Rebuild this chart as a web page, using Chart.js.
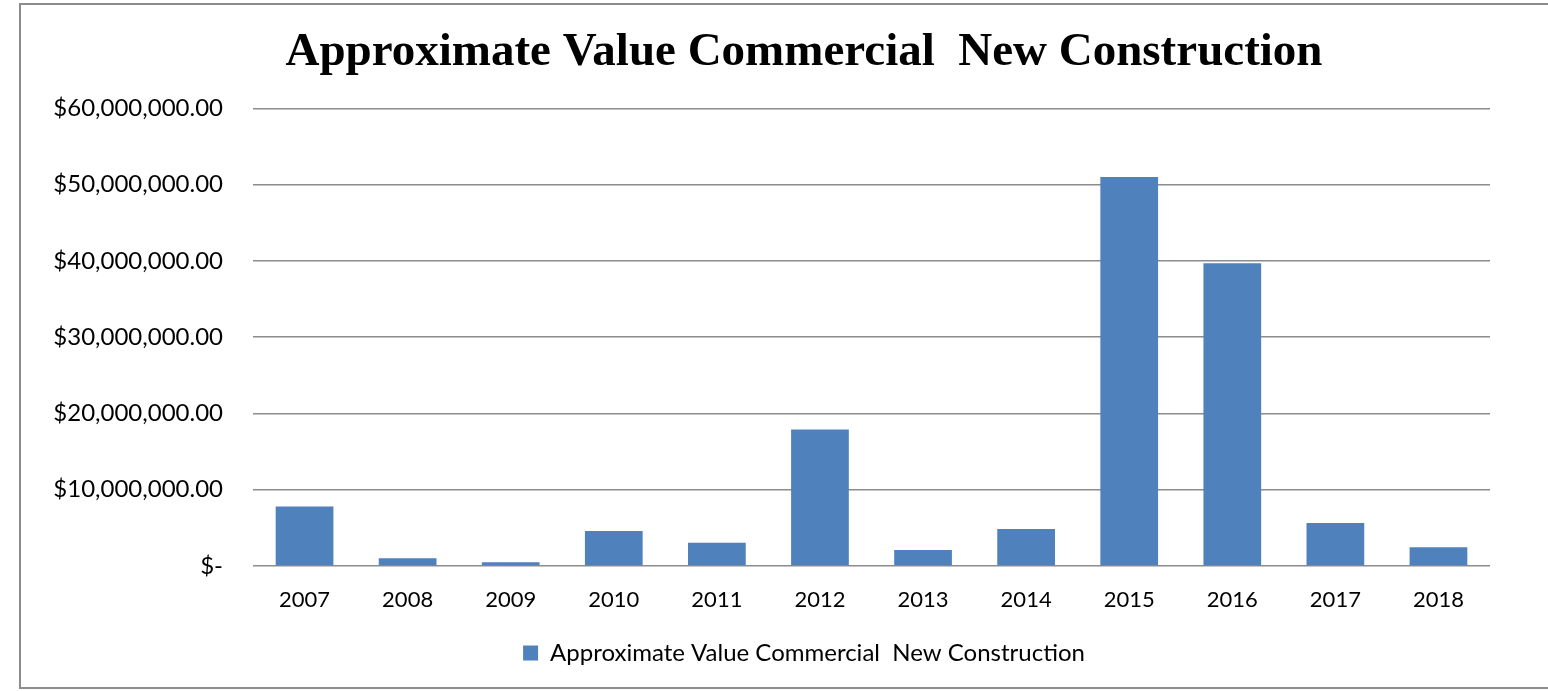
<!DOCTYPE html>
<html>
<head>
<meta charset="utf-8">
<script src="https://cdn.jsdelivr.net/npm/chart.js@4/dist/chart.umd.min.js"></script>
<style>
  html, body { margin: 0; padding: 0; background: #fff; overflow: hidden; }
  #box {
    position: absolute;
    left: 19px; top: 3px;
    width: 1570px; height: 686px;
    border: 2px solid #8c8c8c;
    box-sizing: border-box;
  }
  #box canvas { display: block; }
</style>
</head>
<body>
<div id="box"><canvas id="costChart"></canvas></div>
<script>
// Chart data
const chartTitle = "Approximate Value Commercial  New Construction";
const seriesName = "Approximate Value Commercial  New Construction";
const years = ["2007", "2008", "2009", "2010", "2011", "2012", "2013", "2014", "2015", "2016", "2017", "2018"];
const values = [7800000, 1000000, 500000, 4600000, 3050000, 17900000, 2100000, 4850000, 51000000, 39700000, 5650000, 2450000];
const yTicks = [0, 10000000, 20000000, 30000000, 40000000, 50000000, 60000000];

// Excel-style accounting label: "$-" for zero
function money(v) {
    if (v === 0) return "$-";
    return "$" + v.toLocaleString("en-US", { minimumFractionDigits: 2, maximumFractionDigits: 2 });
}

function buildChart() {
    const ctx = document.getElementById("costChart").getContext("2d");
    const chart = new Chart(ctx, {
        type: "bar",
        data: {
            labels: years,
            datasets: [
                {
                    label: seriesName,
                    data: values,
                    backgroundColor: "#4f81bd",
                    barPercentage: 0.56,
                    categoryPercentage: 1.0,
                    yAxisID: "y",
                },
            ],
        },
        options: {
            responsive: true,
            maintainAspectRatio: false,
            animation: false,
            layout: { padding: { left: 0, right: 0, top: 0, bottom: 12 } },
            plugins: {
                title: {
                    display: true,
                    text: chartTitle,
                    color: "#000",
                    font: { family: "Liberation Serif", size: 47, weight: "bold" },
                    padding: { top: 20, bottom: 27 },
                },
                legend: {
                    position: "bottom",
                    labels: {
                        color: "#000",
                        font: { family: "Lato", size: 24 },
                        boxWidth: 15,
                        boxHeight: 15,
                        padding: 10,
                    },
                },
                tooltip: { enabled: false },
            },
            scales: {
                x: {
                    grid: { display: false },
                    border: { display: false },
                    ticks: { color: "#000", font: { family: "Lato", size: 22 }, padding: 13 },
                    afterFit: (scale) => { scale.height = 65; },
                },
                y: {
                    min: 0,
                    max: 60000000,
                    afterBuildTicks: (scale) => { scale.ticks = yTicks.map((v) => ({ value: v })); },
                    grid: { color: "#8c8c8c", lineWidth: 1.5, drawTicks: false },
                    border: { display: false },
                    ticks: {
                        color: "#000",
                        font: { family: "Lato", size: 24 },
                        padding: 30,
                        callback: (v) => money(v),
                    },
                    afterFit: (scale) => { scale.width = 232; },
                },
                // empty axis on the right: keeps the plot narrower than the frame
                yRight: {
                    position: "right",
                    display: true,
                    grid: { display: false },
                    border: { display: false },
                    ticks: { display: false },
                    afterFit: (scale) => { scale.width = 97; },
                },
            },
        },
    });
    return chart;
}

document.addEventListener("DOMContentLoaded", buildChart);
</script>
</body>
</html>
